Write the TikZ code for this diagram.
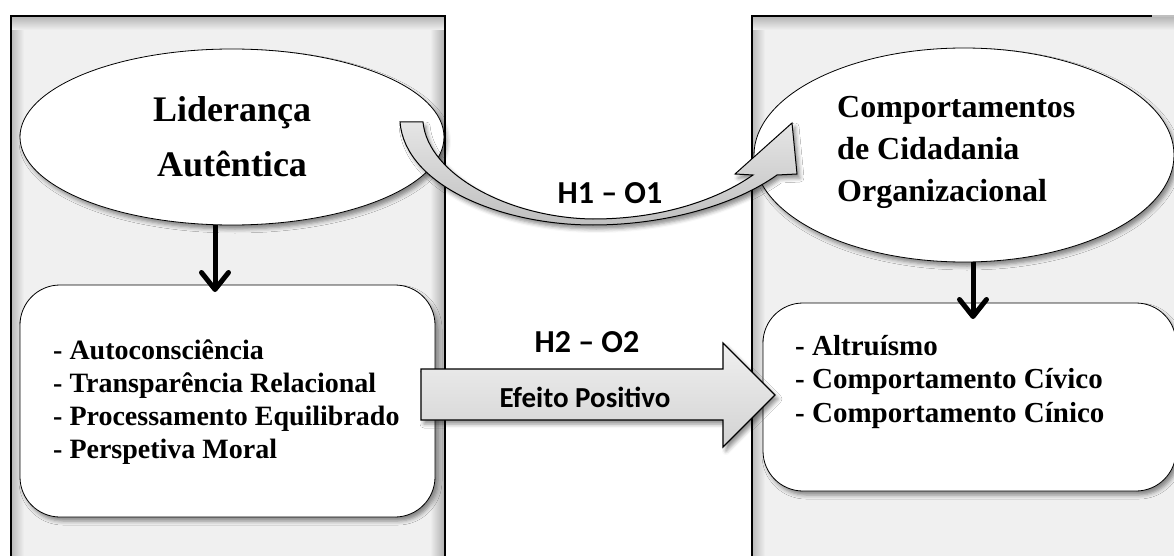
\documentclass[tikz,border=0pt]{standalone}
\usepackage{fontspec}
\setmainfont{Liberation Serif}
\newfontfamily\calib{Carlito}
\usetikzlibrary{shadows.blur, arrows.meta, shapes.geometric}
\definecolor{panel}{HTML}{F0F0F0}
\begin{document}
\begin{tikzpicture}[x=1pt,y=-1pt,
  shd/.style={blur shadow={shadow xshift=3pt, shadow yshift=-4pt, shadow blur radius=4pt, shadow opacity=45}},
  ell/.style={ellipse, draw, line width=0.8pt, fill=white, inner sep=0pt, outer sep=0pt, shd},
  rbox/.style={draw, line width=0.8pt, fill=white, rounded corners=40pt, inner sep=0pt, outer sep=0pt, shd},
  downarrow/.style={line width=5pt, -{Straight Barb[length=17pt,width=27pt,round]}},
  bigtxt/.style={font=\fontsize{36}{55}\selectfont\bfseries, align=center},
  listtxt/.style={font=\fontsize{28}{33}\selectfont\bfseries, align=left, anchor=west, inner sep=0pt},
  lbl/.style={font=\fontsize{32}{36}\selectfont\calib\bfseries, inner sep=0pt}]
\useasboundingbox (0,0) rectangle (1174,556);
\begin{scope}
\clip (0,0) rectangle (1174,556);
% left panel
\fill[panel] (11,16) rectangle (445,580);
\shade[left color=gray!55, right color=panel] (11,16) rectangle (24,580);
\shade[left color=panel, right color=gray!65] (430,16) rectangle (445,580);
\shade[top color=gray!60, bottom color=panel] (11,16) rectangle (445,30);
\draw[line width=2pt] (11,580) -- (11,16) -- (445,16) -- (445,580);
% right panel
\fill[panel] (752,16) rectangle (1200,580);
\shade[left color=gray!55, right color=panel] (752,16) rectangle (765,580);
\shade[top color=gray!60, bottom color=panel] (752,16) rectangle (1200,30);
\draw[line width=2pt] (752,580) -- (752,16) -- (1152,16);
\draw[line width=2pt, gray!50] (1152,16) -- (1200,16);
\end{scope}

% ellipses
\node[ell, minimum width=424pt, minimum height=176pt] (le) at (232,137) {};
\node[bigtxt] (letxt) at (232,137) {Liderança\\Autêntica};
\node[ell, minimum width=420pt, minimum height=214pt] (re) at (964,155) {};
\node[font=\fontsize{32}{42}\selectfont\bfseries, align=left, anchor=west, inner sep=0pt] (retxt) at (837,152) {Comportamentos\\de Cidadania\\Organizacional};

% rounded boxes
\node[rbox, minimum width=415pt, minimum height=232pt] (lbox) at (227.5,401) {};
\node[listtxt] (ltxt) at (53,402) {- Autoconsciência\\- Transparência Relacional\\- Processamento Equilibrado\\- Perspetiva Moral};
\node[rbox, minimum width=413pt, minimum height=188pt] (rbox) at (969.5,397) {};
\node[listtxt, font=\fontsize{29}{33.5}\selectfont\bfseries] (rtxt) at (795,382) {- Altruísmo\\- Comportamento Cívico\\- Comportamento Cínico};

% down arrows
\draw[downarrow] ([xshift=-17pt]le.south) -- ([xshift=-12.5pt, yshift=-7pt]lbox.north);
\draw[downarrow] ([xshift=9pt]re.south) -- ([xshift=3.5pt, yshift=-16pt]rbox.north);

% curved arrow H1
\shade[top color=gray!20, bottom color=gray!50, draw=black, line width=1pt, shd]
  (400,122) -- (423,122)
  .. controls (428,175) and (510,218) .. (593,219)
  .. controls (665,219) and (720,198) .. (753,175)
  -- (735,174) -- (792,123) -- (797,174) -- (777,175)
  .. controls (735,205) and (665,225) .. (593,225)
  .. controls (500,225) and (405,185) .. cycle;
\node[lbl] (h1) at (610,193) {H1 – O1};

% block arrow H2
\shade[top color=gray!12, bottom color=gray!35, draw=black, line width=1.2pt, shd]
  (421,369) -- (723,369) -- (723,343) -- (775,395) -- (723,447) -- (723,420) -- (421,420) -- cycle;
\node[lbl] (h2) at (587,342) {H2 – O2};
\node[lbl, font=\fontsize{29}{32}\selectfont\calib\bfseries] (ef) at (585,397) {Efeito Positivo};
\end{tikzpicture}
\end{document}
